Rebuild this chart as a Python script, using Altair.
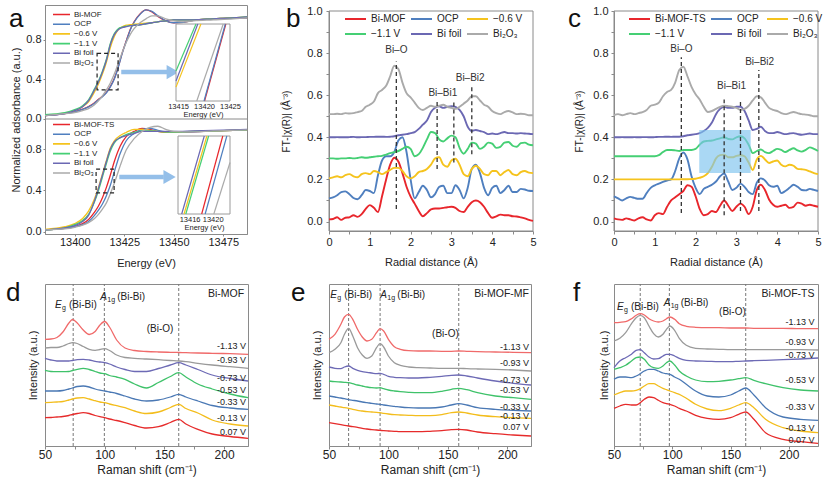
import altair as alt
import pandas as pd

FONT = "Liberation Sans"
INK = "#222222"
FRAME = "#8a8a8a"
ARROW = "#94bfe9"

SIX_COLORS = ["#e8262c", "#4f7fbf", "#f5c31d", "#45cf74", "#6b68b3", "#aaaaaa"]
SEVEN_COLORS = ["#f06a6a", "#9a9a9a", "#6d6ab5", "#3fc26a", "#4a78b4", "#f3bd1c", "#e62b2b"]

# ---------------- panel a (XANES) ----------------
A_TOP_NAMES = ["Bi-MOF", "OCP", "\u22120.6 V", "\u22121.1 V", "Bi foil", "Bi\u2082O\u2083"]
A_BOT_NAMES = ["Bi-MOF-TS", "OCP", "\u22120.6 V", "\u22121.1 V", "Bi foil", "Bi\u2082O\u2083"]
A_XDOM = [13385, 13487]
A_TICKS = [13400, 13425, 13450, 13475]
A_TOP_YDOM = [-0.005, 1.15]
A_BOT_YDOM = [-0.02, 1.09]

A_TOP_E = [13385, 13395, 13400, 13404, 13407, 13410, 13412, 13414, 13416, 13418, 13420, 13422, 13424, 13426,
           13428, 13430, 13433, 13436, 13439, 13442, 13446, 13450, 13455, 13460, 13470, 13480, 13487]
A_TOP_BIMOF = [0.03, 0.05, 0.07, 0.095, 0.12, 0.16, 0.195, 0.225, 0.265, 0.325, 0.405, 0.525, 0.665, 0.785,
               0.9, 0.98, 1.06, 1.1, 1.08, 1.035, 0.99, 0.97, 0.975, 0.995, 1.01, 1.02, 1.02]
A_TOP_OCP = [0.03, 0.05, 0.068, 0.092, 0.118, 0.155, 0.19, 0.22, 0.26, 0.32, 0.4, 0.52, 0.66, 0.78,
             0.895, 0.975, 1.055, 1.1, 1.085, 1.04, 0.99, 0.97, 0.975, 0.995, 1.01, 1.02, 1.02]
A_TOP_M06 = [0.035, 0.055, 0.08, 0.12, 0.17, 0.27, 0.35, 0.45, 0.57, 0.72, 0.83, 0.9, 0.93, 0.945,
             0.95, 0.955, 0.96, 0.965, 0.97, 0.98, 0.99, 1.0, 1.0, 1.0, 1.01, 1.02, 1.03]
A_TOP_M11 = [0.04, 0.06, 0.09, 0.13, 0.19, 0.3, 0.38, 0.48, 0.6, 0.76, 0.86, 0.91, 0.925, 0.935,
             0.94, 0.945, 0.95, 0.96, 0.97, 0.98, 0.99, 1.0, 1.0, 1.0, 1.01, 1.02, 1.03]
A_TOP_FOIL = [0.03, 0.05, 0.08, 0.12, 0.18, 0.29, 0.37, 0.47, 0.59, 0.75, 0.85, 0.9, 0.92, 0.93,
              0.94, 0.945, 0.95, 0.96, 0.97, 0.98, 0.99, 1.0, 1.0, 1.0, 1.01, 1.02, 1.03]
A_TOP_BI2O3 = [0.03, 0.05, 0.06, 0.08, 0.1, 0.14, 0.18, 0.23, 0.29, 0.36, 0.45, 0.56, 0.67, 0.77,
               0.85, 0.91, 0.97, 1.01, 1.04, 1.04, 1.01, 0.99, 0.98, 0.99, 1.0, 1.01, 1.02]

A_BOT_E = [13385, 13395, 13400, 13404, 13407, 13410, 13412, 13414, 13416, 13418, 13420, 13423, 13426,
           13430, 13434, 13438, 13442, 13446, 13450, 13460, 13470, 13480, 13487]
A_BOT_BIMOFTS = [0.02, 0.035, 0.05, 0.08, 0.12, 0.19, 0.25, 0.33, 0.43, 0.55, 0.68, 0.83, 0.92,
                 0.97, 1.0, 0.99, 0.97, 0.96, 0.96, 0.965, 0.975, 0.98, 0.985]
A_BOT_OCP = [0.02, 0.035, 0.05, 0.07, 0.1, 0.16, 0.21, 0.27, 0.35, 0.45, 0.58, 0.76, 0.88,
             0.95, 0.99, 1.0, 0.98, 0.965, 0.96, 0.965, 0.975, 0.98, 0.985]
A_BOT_M06 = [0.025, 0.05, 0.08, 0.13, 0.2, 0.32, 0.43, 0.56, 0.69, 0.81, 0.88, 0.93, 0.96,
             0.99, 0.99, 0.98, 0.97, 0.965, 0.965, 0.97, 0.975, 0.98, 0.985]
A_BOT_M11 = [0.02, 0.04, 0.07, 0.11, 0.17, 0.29, 0.4, 0.53, 0.66, 0.78, 0.86, 0.91, 0.94,
             0.96, 0.975, 0.975, 0.97, 0.965, 0.965, 0.97, 0.975, 0.98, 0.985]
A_BOT_FOIL = [0.02, 0.04, 0.06, 0.1, 0.16, 0.3, 0.42, 0.55, 0.68, 0.8, 0.87, 0.91, 0.93,
              0.95, 0.97, 0.97, 0.97, 0.97, 0.97, 0.975, 0.98, 0.985, 0.99]
A_BOT_BI2O3 = [0.02, 0.03, 0.045, 0.065, 0.09, 0.13, 0.17, 0.22, 0.28, 0.37, 0.47, 0.64, 0.79,
               0.9, 0.97, 1.01, 1.02, 0.99, 0.97, 0.965, 0.975, 0.98, 0.985]

A_TOP_BOX = [13411.3, 13421.9, 0.29, 0.66]
A_BOT_BOX = [13410.8, 13419.9, 0.376, 0.607]
A_TOP_ARROW = [13423.5, 13447.0, 13449.5, 0.47]
A_BOT_ARROW = [13422.5, 13445.0, 13447.9, 0.53]

INS_TOP_DOM = [13414.6, 13425]
INS_TOP_TICKS = [13415, 13420, 13425]
INS_TOP_E0 = [13420.1, 13420.0, 13414.6, 13414.6, 13414.6, 13418.6]
INS_TOP_V0 = [0.0, 0.0, 0.18, 0.39, 0.26, 0.0]
INS_TOP_E1 = [13424.2, 13424.1, 13419.4, 13418.45, 13418.8, 13423.7]
INS_TOP_V1 = [1.0, 1.0, 1.0, 1.0, 1.0, 1.0]

INS_BOT_DOM = [13414, 13423]
INS_BOT_TICKS = [13416, 13420]
INS_BOT_E0 = [13418.1, 13418.7, 13415.05, 13415.35, 13414.64, 13420.2]
INS_BOT_V0 = [0.0, 0.0, 0.0, 0.0, 0.0, 0.0]
INS_BOT_E1 = [13421.75, 13422.45, 13419.0, 13419.3, 13418.55, 13423.0]
INS_BOT_V1 = [1.0, 1.0, 1.0, 1.0, 1.0, 0.66]

# ---------------- panels b, c (EXAFS) ----------------
R_GRID = [0.0, 0.1, 0.2, 0.3, 0.4, 0.5, 0.6, 0.7, 0.8, 0.9, 1.0, 1.1, 1.2, 1.3, 1.4, 1.5, 1.6, 1.7,
          1.8, 1.9, 2.0, 2.1, 2.2, 2.3, 2.4, 2.5, 2.6, 2.7, 2.8, 2.9, 3.0, 3.1, 3.2, 3.3, 3.4, 3.5,
          3.6, 3.7, 3.8, 3.9, 4.0, 4.1, 4.2, 4.3, 4.4, 4.5, 4.6, 4.7, 4.8, 4.9, 5.0]
R_XDOM = [0, 5]
R_YDOM = [-0.045, 1.0]
R_XTICKS = [0, 0.5, 1, 1.5, 2, 2.5, 3, 3.5, 4, 4.5, 5]
R_YTICKS = [0.0, 0.1, 0.2, 0.3, 0.4, 0.5, 0.6, 0.7, 0.8, 0.9, 1.0]
B_NAMES = ["Bi-MOF", "OCP", "\u22120.6 V", "\u22121.1 V", "Bi foil", "Bi\u2082O\u2083"]
C_NAMES = ["Bi-MOF-TS", "OCP", "\u22120.6 V", "\u22121.1 V", "Bi foil", "Bi\u2082O\u2083"]

B_BIMOF = [0.010, 0.012, 0.020, 0.008, 0.018, 0.020, 0.030, 0.022, 0.035, 0.060, 0.078, 0.065, 0.045,
           0.120, 0.200, 0.270, 0.303, 0.285, 0.230, 0.165, 0.118, 0.085, 0.050, 0.025, 0.040, 0.058,
           0.062, 0.062, 0.065, 0.068, 0.070, 0.065, 0.050, 0.045, 0.070, 0.092, 0.100, 0.092, 0.070,
           0.040, 0.018, 0.025, 0.033, 0.030, 0.030, 0.025, 0.024, 0.020, 0.015, 0.008, 0.003]
B_OCP = [0.110, 0.115, 0.125, 0.140, 0.143, 0.130, 0.112, 0.106, 0.125, 0.150, 0.145, 0.135, 0.220,
         0.290, 0.310, 0.310, 0.330, 0.385, 0.400, 0.330, 0.200, 0.110, 0.140, 0.170, 0.150, 0.115,
         0.130, 0.165, 0.170, 0.135, 0.135, 0.172, 0.150, 0.110, 0.160, 0.250, 0.270, 0.230, 0.160,
         0.125, 0.160, 0.170, 0.135, 0.150, 0.170, 0.140, 0.140, 0.155, 0.152, 0.146, 0.145]
B_M06 = [0.205, 0.210, 0.215, 0.210, 0.220, 0.225, 0.215, 0.210, 0.225, 0.230, 0.225, 0.240, 0.235,
         0.225, 0.235, 0.245, 0.255, 0.255, 0.240, 0.215, 0.205, 0.215, 0.235, 0.240, 0.250, 0.270,
         0.300, 0.305, 0.270, 0.260, 0.290, 0.298, 0.270, 0.225, 0.215, 0.250, 0.265, 0.250, 0.225,
         0.220, 0.240, 0.240, 0.220, 0.235, 0.245, 0.225, 0.220, 0.235, 0.240, 0.232, 0.230]
B_M11 = [0.300, 0.300, 0.298, 0.300, 0.300, 0.302, 0.300, 0.302, 0.305, 0.303, 0.305, 0.308, 0.310,
         0.312, 0.318, 0.325, 0.330, 0.335, 0.345, 0.355, 0.345, 0.310, 0.320, 0.350, 0.390, 0.425,
         0.420, 0.390, 0.380, 0.395, 0.408, 0.400, 0.350, 0.322, 0.345, 0.375, 0.370, 0.345, 0.355,
         0.375, 0.370, 0.350, 0.355, 0.375, 0.378, 0.360, 0.355, 0.372, 0.375, 0.365, 0.362]
B_FOIL = [0.400, 0.400, 0.401, 0.400, 0.400, 0.401, 0.402, 0.400, 0.401, 0.401, 0.402, 0.402, 0.403,
          0.403, 0.402, 0.403, 0.405, 0.410, 0.412, 0.415, 0.420, 0.425, 0.440, 0.460, 0.480, 0.520,
          0.540, 0.547, 0.540, 0.545, 0.548, 0.545, 0.530, 0.500, 0.450, 0.430, 0.435, 0.430, 0.425,
          0.415, 0.418, 0.415, 0.420, 0.425, 0.420, 0.420, 0.418, 0.420, 0.418, 0.417, 0.415]
B_BI2O3 = [0.510, 0.510, 0.512, 0.510, 0.515, 0.513, 0.515, 0.520, 0.525, 0.545, 0.555, 0.570, 0.610,
           0.625, 0.645, 0.690, 0.740, 0.725, 0.660, 0.610, 0.590, 0.565, 0.540, 0.530, 0.540, 0.550,
           0.545, 0.550, 0.555, 0.545, 0.540, 0.535, 0.545, 0.560, 0.575, 0.595, 0.595, 0.575, 0.555,
           0.545, 0.525, 0.515, 0.510, 0.520, 0.525, 0.518, 0.510, 0.512, 0.510, 0.505, 0.505]

C_BIMOFTS = [0.015, 0.010, 0.008, 0.015, 0.010, 0.005, 0.015, 0.020, 0.010, 0.005, 0.030, 0.040, 0.035,
             0.070, 0.100, 0.115, 0.130, 0.145, 0.172, 0.165, 0.120, 0.060, 0.030, 0.035, 0.050, 0.045,
             0.075, 0.100, 0.075, 0.050, 0.070, 0.085, 0.070, 0.035, 0.070, 0.150, 0.175, 0.150, 0.105,
             0.080, 0.070, 0.075, 0.080, 0.065, 0.070, 0.090, 0.085, 0.075, 0.080, 0.075, 0.070]
C_OCP = [0.120, 0.110, 0.100, 0.110, 0.117, 0.112, 0.108, 0.108, 0.135, 0.160, 0.172, 0.180, 0.188,
         0.195, 0.200, 0.240, 0.300, 0.328, 0.295, 0.215, 0.160, 0.130, 0.155, 0.165, 0.175, 0.190,
         0.215, 0.228, 0.190, 0.150, 0.160, 0.180, 0.165, 0.140, 0.130, 0.185, 0.205, 0.195, 0.172,
         0.165, 0.170, 0.135, 0.145, 0.160, 0.175, 0.165, 0.150, 0.148, 0.155, 0.150, 0.145]
C_M06 = [0.200, 0.200, 0.200, 0.200, 0.200, 0.200, 0.200, 0.200, 0.200, 0.200, 0.200, 0.200, 0.200,
         0.200, 0.200, 0.200, 0.200, 0.201, 0.201, 0.202, 0.203, 0.208, 0.215, 0.230, 0.260, 0.300,
         0.315, 0.318, 0.305, 0.305, 0.312, 0.315, 0.310, 0.280, 0.245, 0.295, 0.312, 0.295, 0.278,
         0.285, 0.290, 0.270, 0.262, 0.270, 0.265, 0.250, 0.248, 0.245, 0.238, 0.230, 0.225]
C_M11 = [0.310, 0.310, 0.310, 0.310, 0.310, 0.310, 0.310, 0.310, 0.310, 0.310, 0.310, 0.315, 0.330,
         0.340, 0.340, 0.338, 0.335, 0.340, 0.340, 0.340, 0.345, 0.365, 0.380, 0.383, 0.385, 0.390,
         0.395, 0.400, 0.392, 0.390, 0.400, 0.405, 0.395, 0.365, 0.325, 0.335, 0.342, 0.330, 0.325,
         0.335, 0.345, 0.340, 0.330, 0.340, 0.348, 0.338, 0.332, 0.340, 0.352, 0.345, 0.335]
C_FOIL = [0.400, 0.400, 0.401, 0.400, 0.400, 0.401, 0.400, 0.401, 0.401, 0.400, 0.401, 0.402, 0.402,
          0.403, 0.402, 0.403, 0.403, 0.405, 0.410, 0.412, 0.415, 0.420, 0.430, 0.445, 0.470, 0.510,
          0.535, 0.545, 0.540, 0.540, 0.545, 0.545, 0.525, 0.480, 0.435, 0.440, 0.450, 0.430, 0.420,
          0.420, 0.425, 0.420, 0.415, 0.418, 0.420, 0.415, 0.412, 0.415, 0.418, 0.415, 0.415]
C_BI2O3 = [0.505, 0.510, 0.505, 0.510, 0.515, 0.510, 0.515, 0.520, 0.530, 0.550, 0.555, 0.565, 0.595,
           0.615, 0.625, 0.660, 0.720, 0.735, 0.690, 0.640, 0.605, 0.580, 0.545, 0.520, 0.525, 0.535,
           0.545, 0.550, 0.548, 0.545, 0.540, 0.530, 0.535, 0.550, 0.575, 0.595, 0.590, 0.565, 0.540,
           0.530, 0.525, 0.515, 0.510, 0.515, 0.520, 0.515, 0.510, 0.508, 0.505, 0.500, 0.500]

B_RULE_X = [1.65, 2.65, 3.06, 3.5]
B_RULE_Y1 = [0.06, 0.25, 0.28, 0.32]
B_RULE_Y2 = [0.76, 0.576, 0.576, 0.64]
B_LAB_X = [1.65, 2.79, 3.46]
B_LAB_Y = [0.814, 0.61, 0.68]
C_RULE_X = [1.65, 2.7, 3.1, 3.55]
C_RULE_Y1 = [0.04, 0.03, 0.05, 0.05]
C_RULE_Y2 = [0.78, 0.58, 0.58, 0.72]
C_LAB_X = [1.65, 2.88, 3.57]
C_LAB_Y = [0.82, 0.645, 0.76]
BOND_LABELS = ["Bi\u2013O", "Bi\u2013Bi1", "Bi\u2013Bi2"]
C_BOX = [2.09, 3.35, 0.23, 0.435]

# ---------------- panels d, e, f (Raman) ----------------
RAMAN_NAMES = ["-1.13 V", "-0.93 V", "-0.73 V", "-0.53 V", "-0.33 V", "-0.13 V", "0.07 V"]
RAMAN_XTICKS = [50, 75, 100, 125, 150, 175, 200]

D_X = [50, 55, 60, 65, 70, 73, 77, 82, 87, 92, 96, 100, 104, 110, 117, 125, 135, 145, 155, 162, 168, 178, 190, 205, 220]
D_M113 = [106.7, 107, 108.5, 114, 123, 126.5, 123, 116, 111.5, 114.5, 121, 124.5, 119, 106, 98, 95.5, 94.5, 94, 93.7, 93.5, 93.3, 93, 92.7, 92.3, 91.7]
D_M093 = [98, 98.5, 98.5, 100, 102.5, 103.3, 102.5, 99.5, 96.7, 95.7, 96.5, 97.3, 95.5, 91, 88.5, 87.7, 87, 86.3, 85.5, 85, 84.3, 82.7, 81, 79.3, 77.7]
D_M073 = [87.7, 86, 85, 85, 85, 85.5, 86.3, 86.7, 86, 84.7, 84, 83.3, 82, 79, 76.5, 74.5, 74.5, 77.5, 81, 83.3, 81, 76.5, 71, 67.5, 65]
D_M053 = [75.7, 74.5, 74.3, 74.3, 74.5, 75.5, 76.7, 77.7, 76.5, 74.5, 73, 72.3, 70.5, 69, 66.7, 62, 58, 63.5, 69.5, 73.3, 69, 62, 57, 52, 48.3]
D_M033 = [55, 55, 55, 55.5, 57, 58, 59.5, 60, 59, 57, 55.8, 55, 54, 52.5, 50, 47, 45, 46, 49, 51.7, 49, 45, 40.5, 38, 36.7]
D_M013 = [43.3, 43.7, 44, 44.5, 46, 47, 48, 48.3, 47, 45.3, 44, 43.3, 42, 40.3, 38.3, 35, 32.5, 34, 38.5, 41.7, 37.5, 33, 26, 22, 20]
D_P007 = [28.3, 28.5, 29, 29.5, 30.5, 31.5, 32.5, 33.3, 32.5, 30.5, 29.3, 28.3, 27, 25.5, 23.3, 20.5, 18, 19.3, 23.5, 26.7, 22, 16.7, 12, 9.5, 7.7]

E_X = [50, 55, 60, 63, 66.5, 70, 74, 78, 82, 86, 90, 93, 96, 100, 105, 110, 117, 125, 135, 145, 153, 159, 166, 175, 190, 205, 220]
E_M113 = [106.7, 111.7, 121.7, 129, 131.7, 126.7, 116.7, 109, 105, 106.7, 113.3, 117.3, 115, 106.7, 99.3, 96.7, 95.3, 95, 95, 94.7, 94.7, 95, 94.7, 94.3, 94, 93.7, 93.3]
E_M093 = [93.3, 96.7, 103.3, 111.7, 117.7, 110, 98.3, 91, 87.7, 90, 98.3, 102.3, 99, 90, 83.3, 80.7, 79, 78.3, 78, 77.7, 77.7, 77.7, 77.3, 77, 76.7, 76, 75]
E_M073 = [79, 77.7, 77.3, 79, 80, 77.7, 75.7, 74.3, 73.7, 73, 72.3, 72.7, 71.7, 69.7, 68.7, 68.3, 68, 68, 68.7, 69.7, 70.7, 71, 70, 68, 65, 62.7, 61]
E_M053 = [65, 64.3, 64, 63.7, 63.3, 62.3, 61, 60, 59, 58.3, 58, 58.3, 57.3, 56, 55, 54.3, 53.7, 53.3, 53.3, 54.7, 56.7, 57.7, 56.3, 53.3, 50, 48.3, 46.7]
E_M033 = [50, 49, 48, 47.3, 46.3, 45.7, 45, 44, 43.3, 42.7, 42, 41.7, 41, 40.3, 39.7, 39, 38.3, 38, 38, 39, 41, 42.3, 41, 38.3, 36.7, 35.7, 35]
E_M013 = [41, 40, 39, 38.3, 37.7, 36.7, 35.7, 35, 34.3, 34, 33.7, 33.3, 32.7, 32, 31.3, 31, 30.7, 30.3, 30.3, 31.3, 33.3, 34, 33, 31, 29.3, 28.3, 27.7]
E_P007 = [23.3, 22.3, 21.3, 20.7, 20, 19.3, 18.7, 17.7, 17, 16.3, 16, 15.7, 15.3, 15, 14.7, 14.3, 14.3, 14.3, 14.7, 15.3, 16.3, 16.7, 16, 14, 12.3, 11, 10]

F_X = [50, 55, 60, 65, 69, 72.5, 76, 80, 84, 88, 92, 95, 98, 102, 106, 112, 120, 130, 140, 150, 157, 163, 170, 180, 195, 210, 225]
F_M113 = [123.3, 123.7, 124.3, 127.3, 130.7, 132.3, 131, 127.3, 125, 124, 125, 127.3, 129, 126.7, 122.3, 119.7, 118.7, 118.3, 118.3, 118, 118, 118, 117.7, 117.7, 117.7, 117.3, 117.3]
F_M093 = [105, 107.7, 113.3, 122.3, 128.3, 130.7, 128.3, 120, 112.3, 109, 111.7, 116.7, 120, 115.7, 107.7, 100.7, 97.7, 97, 96.7, 96.3, 96.3, 96.3, 96.3, 96.3, 96.3, 96.3, 96]
F_M073 = [78.3, 85, 88.3, 91.7, 95.7, 96.3, 93.3, 89, 87, 87.3, 90, 91.7, 91.7, 90, 87.7, 85.7, 85, 84.7, 84.3, 84.3, 84.7, 85, 85.3, 85.7, 86.3, 87, 88]
F_M053 = [76.7, 78.3, 80.7, 85, 88.3, 89, 86.7, 81, 78.3, 77.7, 80, 83.3, 85, 81, 75, 70, 66, 64.3, 64.7, 66, 67.3, 68.3, 65.7, 62.3, 58.3, 56, 55]
F_M033 = [66.7, 69, 69, 68.3, 70, 72.3, 75, 76.7, 76.7, 75, 73, 72.3, 71.7, 69, 66.7, 61.7, 55, 50, 49, 51, 55, 58, 51, 38.3, 29, 26.7, 25.7]
F_M013 = [51, 53.3, 55, 55, 55.7, 57.3, 60, 62.3, 62.3, 60, 57.7, 56.3, 55, 53.3, 51.7, 47.7, 41.7, 37, 35.3, 37.7, 41, 43.3, 38.3, 26.7, 18.3, 15, 13.3]
F_P007 = [37.7, 40, 41.7, 41, 41, 43.3, 46.7, 49, 48.3, 45.7, 43.3, 42.3, 41.7, 40, 37.7, 35, 30.7, 27.7, 26.7, 28.3, 31.7, 34, 26.7, 13.3, 6.7, 4.3, 2.7]

RAMAN_YDOM = [0, 162]
D_DASH = [73.6, 99.7, 162]
E_DASH = [66.5, 93, 159.2]
F_DASH = [72.5, 97.5, 163]
D_LAB_Y = [100, 85.7, 67.7, 56, 44, 28.3, 14]
E_LAB_Y = [99, 83.3, 66, 56, 39, 30, 19]
F_LAB_Y = [124, 104, 91, 66, 39, 18, 6]
D_LAB_X, E_LAB_X, F_LAB_X = 218.3, 218.3, 222
D_TOP = [216.7, 151.7, "Bi-MOF"]
E_TOP = [218.3, 152, "Bi-MOF-MF"]
F_TOP = [222, 151.7, "Bi-MOF-TS"]
D_EG, D_A1G, D_BIO = [58.4, 141], [96.3, 149], [146.3, 117]
E_EG, E_A1G, E_BIO = [51, 151], [93.2, 151], [148, 112]
F_EG, F_A1G, F_BIO = [52.6, 139], [92.6, 143], [151.6, 134]


def melt(xs, names, series):
    rows = []
    for name, ys in zip(names, series):
        assert len(ys) == len(xs), (name, len(ys), len(xs))
        for i, (x, y) in enumerate(zip(xs, ys)):
            rows.append({"x": x, "y": y, "s": name, "o": i})
    return pd.DataFrame(rows)


def letter(ch, dx, dy):
    return alt.Chart(pd.DataFrame({"t": [ch]})).mark_text(
        fontSize=26, font=FONT, align="left", baseline="alphabetic", color="#111"
    ).encode(x=alt.value(dx), y=alt.value(dy), text="t:N")


def xanes_main(e, names, series, ys, xaxis, yaxis, legend_y, box, arrow, extra=()):
    df = melt(e, names, series)
    xs = alt.Scale(domain=A_XDOM, nice=False, zero=False)
    leg = alt.Legend(orient="none", legendX=7, legendY=legend_y, title=None, direction="vertical",
                     symbolType="stroke", symbolSize=289, symbolStrokeWidth=1.6, clipHeight=8,
                     labelFontSize=8, labelOffset=3, rowPadding=1.7, padding=0)
    lines = alt.Chart(df).mark_line(strokeWidth=1.3, interpolate="monotone").encode(
        x=alt.X("x:Q", scale=xs, axis=xaxis),
        y=alt.Y("y:Q", scale=ys, axis=yaxis),
        color=alt.Color("s:N", scale=alt.Scale(domain=names, range=SIX_COLORS), legend=leg),
        order="o:Q")
    bdf = pd.DataFrame({"x1": [box[0]], "x2": [box[1]], "y1": [box[2]], "y2": [box[3]]})
    boxm = alt.Chart(bdf).mark_rect(fillOpacity=0, stroke="#222", strokeWidth=1.2, strokeDash=[4, 3]).encode(
        x=alt.X("x1:Q", scale=xs, axis=xaxis), x2="x2:Q",
        y=alt.Y("y1:Q", scale=ys, axis=yaxis), y2="y2:Q")
    adf = pd.DataFrame({"x1": [arrow[0]], "x2": [arrow[1]], "xt": [arrow[2]], "y": [arrow[3]]})
    shaft = alt.Chart(adf).mark_rule(strokeWidth=4.5, color=ARROW).encode(
        x=alt.X("x1:Q", scale=xs, axis=xaxis), x2="x2:Q", y=alt.Y("y:Q", scale=ys, axis=yaxis))
    head = alt.Chart(adf).mark_point(shape="triangle-right", filled=True, size=200, color=ARROW, opacity=1).encode(
        x=alt.X("xt:Q", scale=xs, axis=xaxis), y=alt.Y("y:Q", scale=ys, axis=yaxis))
    layers = [lines, boxm, shaft, head]
    for ex in extra:
        layers.append(ex(xs, ys, xaxis, yaxis))
    return alt.layer(*layers)


def xanes_inset(names, dom, ticks, xr, yr, off, e0, v0, e1, v1):
    ix = alt.Scale(domain=dom, range=xr, nice=False, zero=False)
    iy = alt.Scale(domain=[0, 1], range=yr, nice=False, zero=False)
    iax = alt.Axis(orient="bottom", offset=off, values=ticks, format="d", title="Energy (eV)",
                   labelFontSize=7.5, titleFontSize=7.5, ticks=False, domain=False, labelPadding=1,
                   titlePadding=1, labelFlush=False, labelOverlap=False, grid=False)
    fdf = pd.DataFrame({"x1": [dom[0]], "x2": [dom[1]], "y1": [0], "y2": [1]})
    frame = alt.Chart(fdf).mark_rect(fill="white", stroke="#9a9a9a", strokeWidth=1).encode(
        x=alt.X("x1:Q", scale=ix, axis=iax), x2="x2:Q",
        y=alt.Y("y1:Q", scale=iy, axis=None), y2="y2:Q")
    sdf = pd.DataFrame({"s": names, "x1": e0, "y1": v0, "x2": e1, "y2": v1})
    segs = alt.Chart(sdf).mark_rule(strokeWidth=1.2).encode(
        x=alt.X("x1:Q", scale=ix, axis=iax), x2="x2:Q",
        y=alt.Y("y1:Q", scale=iy, axis=None), y2="y2:Q",
        color=alt.Color("s:N", scale=alt.Scale(domain=names, range=SIX_COLORS), legend=None))
    return alt.layer(frame, segs)


def divider(xs, ys, xaxis, yaxis):
    ddf = pd.DataFrame({"x1": [A_XDOM[0]], "x2": [A_XDOM[1]], "y": [A_TOP_YDOM[0]]})
    return alt.Chart(ddf).mark_rule(color=FRAME, strokeWidth=1).encode(
        x=alt.X("x1:Q", scale=xs, axis=xaxis), x2="x2:Q", y=alt.Y("y:Q", scale=ys, axis=yaxis))


def a_letter(xs, ys, xaxis, yaxis):
    return letter("a", -36, 22)


def exafs(names, series, legend_x, rx, ry1, ry2, lx, ly, ytitle_pad, ylabel_pad, let, box=None):
    df = melt(R_GRID, names, series)
    xs = alt.Scale(domain=R_XDOM, nice=False, zero=False)
    ys = alt.Scale(domain=R_YDOM, range=[226, 6], nice=False, zero=False)
    xax = alt.Axis(values=R_XTICKS, labelExpr="datum.value % 1 == 0 ? format(datum.value, 'd') : ''",
                   title="Radial distance (\u00c5)", labelFontSize=11,
                   titleFontSize=11, tickSize=3, labelPadding=2, titlePadding=9, labelFlush=False, grid=False)
    yax = alt.Axis(values=R_YTICKS,
                   labelExpr="round(datum.value * 10) % 2 == 0 ? format(datum.value, '.1f') : ''",
                   title="FT-|\u03c7(R)| (\u00c5\u207b\u00b3)", labelFontSize=11, titleFontSize=10,
                   tickSize=3, labelPadding=ylabel_pad, titlePadding=ytitle_pad, grid=False)
    leg = alt.Legend(orient="none", legendX=legend_x, legendY=8.5, title=None, columns=3, gridAlign="none",
                     direction="horizontal", symbolType="stroke", symbolSize=441, symbolStrokeWidth=2,
                     clipHeight=11, labelFontSize=10, labelOffset=4, rowPadding=4, columnPadding=4, padding=0)
    fdf = pd.DataFrame({"x1": [R_XDOM[0]], "x2": [R_XDOM[1]], "y1": [R_YDOM[0]], "y2": [R_YDOM[1]]})
    frame = alt.Chart(fdf).mark_rect(fillOpacity=0, stroke=FRAME, strokeWidth=1).encode(
        x=alt.X("x1:Q", scale=xs, axis=xax), x2="x2:Q",
        y=alt.Y("y1:Q", scale=ys, axis=yax), y2="y2:Q")
    lines = alt.Chart(df).mark_line(strokeWidth=1.9, interpolate="monotone").encode(
        x=alt.X("x:Q", scale=xs, axis=xax),
        y=alt.Y("y:Q", scale=ys, axis=yax),
        color=alt.Color("s:N", scale=alt.Scale(domain=names, range=SIX_COLORS), legend=leg),
        order="o:Q")
    layers = [frame, lines]
    if box is not None:
        bdf = pd.DataFrame({"x1": [box[0]], "x2": [box[1]], "y1": [box[2]], "y2": [box[3]]})
        layers.append(alt.Chart(bdf).mark_rect(color="#7cc3ee", opacity=0.65).encode(
            x=alt.X("x1:Q", scale=xs, axis=xax), x2="x2:Q",
            y=alt.Y("y1:Q", scale=ys, axis=yax), y2="y2:Q"))
    rdf = pd.DataFrame({"x": rx, "y1": ry1, "y2": ry2})
    layers.append(alt.Chart(rdf).mark_rule(strokeDash=[4, 3], strokeWidth=1.3, color="#333").encode(
        x=alt.X("x:Q", scale=xs, axis=xax), y=alt.Y("y1:Q", scale=ys, axis=yax), y2="y2:Q"))
    tdf = pd.DataFrame({"x": lx, "y": ly, "t": BOND_LABELS})
    layers.append(alt.Chart(tdf).mark_text(fontSize=10, color="#333").encode(
        x=alt.X("x:Q", scale=xs, axis=xax), y=alt.Y("y:Q", scale=ys, axis=yax), text="t:N"))
    layers.append(let)
    return alt.layer(*layers).properties(width=204, height=226, view=alt.ViewBackground(strokeOpacity=0))


def raman(xs_list, series, width, xmax, dash, lab_x, lab_y, top, eg, a1g, bio, title_pad, let):
    df = melt(xs_list, RAMAN_NAMES, series)
    xs = alt.Scale(domain=[50, xmax], nice=False, zero=False)
    ys = alt.Scale(domain=RAMAN_YDOM, nice=False, zero=False)
    xax = alt.Axis(values=RAMAN_XTICKS, labelExpr="datum.value % 50 == 0 ? datum.label : ''",
                   title="Raman shift (cm\u207b\u00b9)", labelFontSize=12,
                   titleFontSize=12, tickSize=3, labelPadding=0, titlePadding=4, labelFlush=False, grid=False)
    yax = alt.Axis(title="Intensity (a.u.)", labels=False, ticks=False, domain=False, titleFontSize=11,
                   titlePadding=title_pad, grid=False)

    def X(f):
        return alt.X(f, type="quantitative", scale=xs, axis=xax)

    def Y(f):
        return alt.Y(f, type="quantitative", scale=ys, axis=yax)

    ddf = pd.DataFrame({"x": dash, "y1": [RAMAN_YDOM[0]] * len(dash), "y2": [RAMAN_YDOM[1]] * len(dash)})
    rules = alt.Chart(ddf).mark_rule(strokeDash=[3, 2], strokeWidth=1, color="#777").encode(
        x=X("x"), y=Y("y1"), y2="y2")
    lines = alt.Chart(df).mark_line(strokeWidth=1.3, interpolate="monotone").encode(
        x=X("x"), y=Y("y"),
        color=alt.Color("s:N", scale=alt.Scale(domain=RAMAN_NAMES, range=SEVEN_COLORS), legend=None),
        order="o:Q")
    ldf = pd.DataFrame({"x": [lab_x] * len(lab_y), "y": lab_y, "t": RAMAN_NAMES})
    labs = alt.Chart(ldf).mark_text(fontSize=9, align="right", color="#222").encode(
        x=X("x"), y=Y("y"), text="t:N")
    tdf = pd.DataFrame({"x": [top[0]], "y": [top[1]], "t": [top[2]]})
    toplab = alt.Chart(tdf).mark_text(fontSize=10.5, align="right", color="#222").encode(
        x=X("x"), y=Y("y"), text="t:N")
    idf = pd.DataFrame({"x": [eg[0], a1g[0]], "y": [eg[1], a1g[1]], "t": ["E", "A"]})
    ital = alt.Chart(idf).mark_text(fontSize=10, fontStyle="italic", align="left", color="#222").encode(
        x=X("x"), y=Y("y"), text="t:N")
    sdf = pd.DataFrame({"x": [eg[0], a1g[0]], "y": [eg[1], a1g[1]], "t": ["g", "1g"]})
    subs = alt.Chart(sdf).mark_text(fontSize=7, align="left", dx=7, dy=3, color="#222").encode(
        x=X("x"), y=Y("y"), text="t:N")
    r1 = alt.Chart(pd.DataFrame({"x": [eg[0]], "y": [eg[1]], "t": ["(Bi-Bi)"]})).mark_text(
        fontSize=10, align="left", dx=14, color="#222").encode(x=X("x"), y=Y("y"), text="t:N")
    r2 = alt.Chart(pd.DataFrame({"x": [a1g[0]], "y": [a1g[1]], "t": ["(Bi-Bi)"]})).mark_text(
        fontSize=10, align="left", dx=17, color="#222").encode(x=X("x"), y=Y("y"), text="t:N")
    b = alt.Chart(pd.DataFrame({"x": [bio[0]], "y": [bio[1]], "t": ["(Bi-O)"]})).mark_text(
        fontSize=10, color="#222").encode(x=X("x"), y=Y("y"), text="t:N")
    return alt.layer(rules, lines, labs, toplab, ital, subs, r1, r2, b, let).properties(width=width, height=162)


# ---- panel a: one view with two stacked sub-plots and two insets ----
ys_top = alt.Scale(domain=A_TOP_YDOM, range=[114, 0], nice=False, zero=False)
ys_bot = alt.Scale(domain=A_BOT_YDOM, range=[229, 114], nice=False, zero=False)
a_top_yax = alt.Axis(orient="left", values=[0.0, 0.4, 0.8], format=".1f", title="Normalized adsorbance (a.u.)",
                     titleY=114.5, titleFontSize=11, labelFontSize=11, tickSize=2, labelPadding=2,
                     titlePadding=4, grid=False)
a_bot_yax = alt.Axis(orient="left", values=[0.0, 0.4, 0.8], format=".1f", title=None, labelFontSize=11,
                     tickSize=2, labelPadding=2, grid=False)
a_bot_xax = alt.Axis(orient="bottom", values=A_TICKS, format="d", title="Energy (eV)", labelFontSize=11,
                     titleFontSize=11, tickSize=2, labelPadding=0, titlePadding=10, labelFlush=False, grid=False)

a_top_main = xanes_main(A_TOP_E, A_TOP_NAMES,
                        [A_TOP_BIMOF, A_TOP_OCP, A_TOP_M06, A_TOP_M11, A_TOP_FOIL, A_TOP_BI2O3],
                        ys_top, None, a_top_yax, 5.5, A_TOP_BOX, A_TOP_ARROW, extra=(divider, a_letter))
a_bot_main = xanes_main(A_BOT_E, A_BOT_NAMES,
                        [A_BOT_BIMOFTS, A_BOT_OCP, A_BOT_M06, A_BOT_M11, A_BOT_FOIL, A_BOT_BI2O3],
                        ys_bot, a_bot_xax, a_bot_yax, 115.5, A_BOT_BOX, A_BOT_ARROW)
a_top_ins = xanes_inset(A_TOP_NAMES, INS_TOP_DOM, INS_TOP_TICKS, [131, 185], [96, 19], -133,
                        INS_TOP_E0, INS_TOP_V0, INS_TOP_E1, INS_TOP_V1)
a_bot_ins = xanes_inset(A_BOT_NAMES, INS_BOT_DOM, INS_BOT_TICKS, [133, 185], [209, 131], -20,
                        INS_BOT_E0, INS_BOT_V0, INS_BOT_E1, INS_BOT_V1)
a = alt.layer(a_top_main, a_bot_main, a_top_ins, a_bot_ins).resolve_scale(
    x="independent", y="independent", color="independent").properties(width=202, height=229)

b = exafs(B_NAMES, [B_BIMOF, B_OCP, B_M06, B_M11, B_FOIL, B_BI2O3], 15,
          B_RULE_X, B_RULE_Y1, B_RULE_Y2, B_LAB_X, B_LAB_Y, 15, 4, letter("b", -43, 22))
c = exafs(C_NAMES, [C_BIMOFTS, C_OCP, C_M06, C_M11, C_FOIL, C_BI2O3], 14,
          C_RULE_X, C_RULE_Y1, C_RULE_Y2, C_LAB_X, C_LAB_Y, 8, 3, letter("c", -46, 22), box=C_BOX)

d = raman(D_X, [D_M113, D_M093, D_M073, D_M053, D_M033, D_M013, D_P007], 203, 220, D_DASH,
          D_LAB_X, D_LAB_Y, D_TOP, D_EG, D_A1G, D_BIO, 7, letter("d", -39, 17))
e = raman(E_X, [E_M113, E_M093, E_M073, E_M053, E_M033, E_M013, E_P007], 202, 220, E_DASH,
          E_LAB_X, E_LAB_Y, E_TOP, E_EG, E_A1G, E_BIO, 7, letter("e", -38, 17))
f = raman(F_X, [F_M113, F_M093, F_M073, F_M053, F_M033, F_M013, F_P007], 204, 225, F_DASH,
          F_LAB_X, F_LAB_Y, F_TOP, F_EG, F_A1G, F_BIO, 4.5, letter("f", -41, 17))

chart = alt.concat(a, b, c, d, e, f, columns=3, spacing={"row": 50, "column": 81}, bounds="flush").resolve_scale(
    x="independent", y="independent", color="independent"
).properties(padding={"left": 5, "top": 4, "right": 2, "bottom": 2})

chart = chart.configure(font=FONT).configure_view(stroke=FRAME, strokeWidth=1).configure_axis(
    labelFont=FONT, titleFont=FONT, labelColor=INK, titleColor=INK, domainColor=FRAME, tickColor=FRAME,
    titleFontWeight="normal", grid=False, labelFlush=False
).configure_legend(labelFont=FONT, labelColor=INK).configure_text(font=FONT)

chart.save("out.html", embed_options={"renderer": "svg", "actions": False})
